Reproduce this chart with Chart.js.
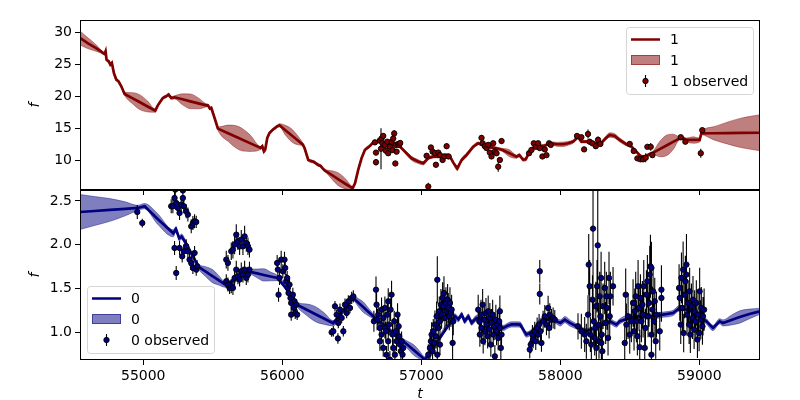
<!DOCTYPE html>
<html>
<head>
<meta charset="utf-8">
<script src="https://cdn.jsdelivr.net/npm/chart.js@4.4.0/dist/chart.umd.min.js"></script>
<style>
  html, body { margin: 0; padding: 0; background: #fff; }
</style>
</head>
<body>
<canvas id="chart" width="800" height="400"></canvas>
<script>
// axis limits and ticks
const xLimits = [54545, 59436];
const xTicks = [55000, 56000, 57000, 58000, 59000];
const topLimits = [5.36, 31.9];
const topTicks = [10, 15, 20, 25, 30];
const botLimits = [0.684, 2.625];
const botTicks = [1.0, 1.5, 2.0, 2.5];

// series "1" (top panel): model mean and band half-width
const redT = [
  54545, 54600, 54655, 54695, 54710, 54722, 54729, 54736, 54751, 54763,
  54774, 54789, 54806, 54822, 54842, 54866, 54921, 54976, 55031, 55086,
  55105, 55141, 55165, 55182, 55201, 55225, 55282, 55339, 55396, 55453,
  55465, 55479, 55489, 55513, 55537, 55614, 55690, 55767, 55844, 55856,
  55868, 55877, 55892, 55908, 55932, 55963, 55980, 56022, 56064, 56106,
  56148, 56160, 56187, 56223, 56259, 56276, 56290, 56307, 56319, 56366,
  56412, 56459, 56506, 56523, 56546, 56570, 56594, 56630, 56654, 56702,
  56750, 56810, 56846, 56882, 56930, 56978, 57014, 57050, 57086, 57134,
  57182, 57206, 57230, 57258, 57290, 57326, 57374, 57409, 57469, 57541,
  57584, 57634, 57685, 57705, 57732, 57751, 57775, 57816, 57876, 57936,
  57972, 58020, 58056, 58092, 58127, 58151, 58187, 58247, 58295, 58326,
  58355, 58391, 58427, 58475, 58511, 58547, 58576, 58607, 58643, 58667,
  58715, 58763, 58811, 58859, 58883, 58907, 58955, 59002, 59014, 59100,
  59200, 59300, 59436
];
const redMean = [
  29.1, 28.3, 27.6, 27.0, 26.76, 26.6, 27.0, 25.7, 25.46, 24.94,
  25.2, 23.6, 22.6, 22.33, 21.55, 20.36, 19.71, 19.06, 18.40, 17.75,
  18.58, 19.73, 19.99, 20.25, 19.73, 19.83, 19.52, 19.2, 18.89, 18.58,
  18.58, 18.07, 18.17, 16.6, 14.94, 14.19, 13.43, 12.68, 11.92, 12.18,
  11.4, 11.66, 13.48, 14.26, 14.78, 15.3, 15.46, 14.7, 13.95, 13.2,
  12.44, 11.92, 10.05, 9.79, 9.27, 9.11, 8.74, 8.38, 8.22, 7.57,
  6.91, 6.26, 5.65, 6.4, 8.49, 10.31, 11.61, 12.24, 12.76, 12.9,
  12.65, 12.4, 12.13, 11.35, 10.31, 9.79, 9.53, 10.31, 10.57, 10.57,
  10.83, 10.57, 9.63, 8.74, 10.05, 10.83, 12.13, 12.65, 12.13, 11.87,
  11.61, 11.1, 10.57, 10.8, 10.1, 10.15, 11.19, 12.13, 12.24, 12.65,
  12.5, 12.5, 12.65, 12.91, 13.59, 12.91, 12.91, 12.65, 12.76, 13.43,
  13.95, 13.8, 13.17, 12.5, 12.13, 11.35, 10.67, 10.57, 10.99, 11.19,
  11.75, 12.31, 12.87, 13.43, 13.43, 13.17, 13.17, 13.17, 14.2, 14.22,
  14.25, 14.28, 14.3
];
const redHalf = [
  1.1, 0.85, 0.55, 0.25, 0.2, 0.2, 0.2, 0.2, 0.2, 0.2,
  0.2, 0.2, 0.2, 0.2, 0.2, 0.25, 0.85, 1.15, 0.85, 0.25,
  0.2, 0.2, 0.2, 0.2, 0.2, 0.25, 0.85, 1.15, 0.85, 0.25,
  0.2, 0.2, 0.2, 0.2, 0.25, 1.3, 1.8, 1.3, 0.25, 0.2,
  0.2, 0.2, 0.2, 0.2, 0.2, 0.2, 0.25, 0.75, 1.0, 0.75,
  0.25, 0.2, 0.2, 0.2, 0.2, 0.2, 0.2, 0.2, 0.25, 0.75,
  1.0, 0.75, 0.25, 0.2, 0.2, 0.2, 0.2, 0.2, 0.2, 0.2,
  0.2, 0.2, 0.2, 0.25, 0.3, 0.3, 0.25, 0.2, 0.2, 0.2,
  0.2, 0.2, 0.25, 0.3, 0.3, 0.3, 0.25, 0.2, 0.2, 0.2,
  0.25, 0.55, 0.25, 0.25, 0.25, 0.25, 0.2, 0.2, 0.2, 0.25,
  0.3, 0.35, 0.3, 0.25, 0.2, 0.2, 0.2, 0.2, 0.2, 0.3,
  0.35, 0.35, 0.3, 0.25, 0.2, 0.2, 0.2, 0.2, 0.2, 0.25,
  1.2, 1.6, 1.2, 0.25, 0.25, 0.3, 0.5, 0.3, 0.2, 1.0,
  1.7, 2.3, 2.8
];

// series "1" observations
const redObsT = [
  56666, 56674, 56674, 56702, 56710, 56714, 56721, 56726, 56738, 56745,
  56755, 56762, 56774, 56786, 56793, 56798, 56805, 56813, 56817, 56822,
  56834, 56841, 56848,
  57038, 57050, 57069, 57081, 57098, 57105, 57122, 57134, 57153, 57165, 57182, 57196,
  57433, 57441, 57457, 57469, 57481, 57493, 57505, 57517, 57529, 57541, 57553, 57565, 57577,
  57775, 57792, 57809, 57823, 57840, 57852, 57871, 57888, 57900, 57919, 57931,
  58120, 58151, 58171, 58199, 58211, 58230, 58255, 58271, 58288,
  58499, 58528, 58554, 58576, 58595, 58614, 58626, 58650, 58662,
  58866, 58899, 59010, 59021
];
const redObsF = [
  12.8, 11.2, 9.7, 13.1, 11.8, 13.4, 12.65, 13.8, 12.4, 11.5,
  12.9, 11.1, 12.1, 12.9, 11.6, 13.4, 14.2, 9.5, 12.4, 11.35,
  12.55, 12.4, 12.7,
  10.7, 5.9, 12.0, 11.35, 11.1, 9.3, 11.2, 10.8, 10.05, 10.6, 12.2, 10.6,
  13.5, 12.65, 12.2, 11.9, 12.4, 11.2, 10.6, 12.65, 11.35, 11.1, 9.0, 10.05, 13.0,
  11.1, 11.6, 12.65, 12.1, 12.65, 11.9, 10.6, 11.7, 10.8, 12.65, 12.4,
  13.8, 13.6, 11.7, 14.1, 12.9, 12.65, 12.2, 13.2, 12.55,
  12.55, 11.45, 10.3, 10.15, 10.15, 10.4, 12.1, 12.1, 10.8,
  13.6, 12.9, 11.1, 14.7
];
const redObsE = [
  0.4, 0.4, 0.5, 0.4, 3.2, 0.4, 0.4, 0.4, 0.4, 0.4,
  0.4, 0.4, 0.4, 0.4, 0.4, 0.4, 0.5, 0.4, 0.4, 0.4,
  0.4, 0.4, 0.4,
  0.4, 0.6, 0.4, 0.4, 0.4, 0.4, 0.4, 0.4, 0.4, 0.4, 0.4, 0.4,
  0.4, 0.4, 0.4, 0.4, 0.4, 0.4, 0.4, 0.4, 0.4, 0.4, 0.8, 0.4, 0.4,
  0.35, 0.35, 0.35, 0.35, 0.35, 0.35, 0.35, 0.35, 0.35, 0.35, 0.35,
  0.35, 0.35, 0.4, 0.7, 0.35, 0.35, 0.35, 0.5, 0.35,
  0.35, 0.35, 0.35, 0.35, 0.35, 0.7, 0.35, 0.6, 0.35,
  0.35, 0.35, 0.7, 0.4
];

// series "0" (bottom panel): model mean and band half-width
const blueT = [
  54545, 54650, 54760, 54870, 54960, 55010, 55100, 55216, 55235, 55259,
  55276, 55300, 55400, 55447, 55495, 55542, 55590, 55660, 55720, 55770,
  55819, 55867, 55916, 55965, 56040, 56112, 56176, 56239, 56303, 56366,
  56440, 56510, 56546, 56582, 56618, 56654, 56760, 56870, 56909, 56948,
  56987, 57026, 57130, 57242, 57266, 57290, 57312, 57338, 57362, 57397,
  57450, 57520, 57589, 57620, 57650, 57690, 57710, 57756, 57790, 57876,
  57948, 57972, 58000, 58032, 58068, 58115, 58187, 58247, 58355, 58403,
  58427, 58540, 58660, 58739, 58811, 58859, 58950, 59050, 59098, 59146,
  59170, 59230, 59290, 59360, 59436
];
const blueMean = [
  2.374, 2.385, 2.397, 2.41, 2.42, 2.44, 2.3, 2.13, 2.177, 2.074,
  2.093, 2.035, 1.745, 1.695, 1.645, 1.595, 1.545, 1.6, 1.66, 1.69,
  1.673, 1.655, 1.638, 1.62, 1.48, 1.31, 1.258, 1.207, 1.155, 1.104,
  1.25, 1.392, 1.34, 1.288, 1.235, 1.183, 1.04, 0.898, 0.846, 0.794,
  0.742, 0.69, 0.93, 1.183, 1.15, 1.2, 1.13, 1.18, 1.11, 1.164,
  1.13, 1.11, 1.05, 1.075, 1.09, 1.09, 1.088, 0.974, 1.0, 1.145,
  1.145, 1.126, 1.107, 1.145, 1.107, 1.069, 1.012, 1.05, 1.126, 1.088,
  1.126, 1.183, 1.183, 1.202, 1.221, 1.278, 1.24, 1.126, 1.05, 1.126,
  1.107, 1.14, 1.175, 1.21, 1.24
];
const blueHalf = [
  0.2, 0.165, 0.13, 0.08, 0.03, 0.03, 0.06, 0.04, 0.03, 0.03,
  0.03, 0.03, 0.03, 0.055, 0.075, 0.055, 0.03, 0.03, 0.03, 0.03,
  0.05, 0.07, 0.05, 0.03, 0.03, 0.03, 0.065, 0.086, 0.065, 0.03,
  0.03, 0.03, 0.045, 0.06, 0.045, 0.03, 0.03, 0.03, 0.045, 0.06,
  0.045, 0.03, 0.03, 0.03, 0.03, 0.03, 0.03, 0.03, 0.03, 0.03,
  0.03, 0.03, 0.03, 0.03, 0.03, 0.03, 0.03, 0.03, 0.03, 0.03,
  0.03, 0.03, 0.035, 0.035, 0.035, 0.03, 0.03, 0.03, 0.03, 0.03,
  0.03, 0.03, 0.03, 0.03, 0.03, 0.03, 0.03, 0.03, 0.03, 0.03,
  0.035, 0.055, 0.07, 0.055, 0.035
];

// series "0" observations, one line per season
const blueObsT = [
  54957, 54993,
  55201, 55213, 55225, 55237, 55249, 55261, 55273, 55285, 55292, 55309, 55321, 55345, 55357, 55369, 55381, 55230, 55285,
  55225, 55237, 55261, 55280, 55292, 55309, 55321, 55333, 55345, 55357, 55369, 55381, 55388,
  55597, 55609, 55633, 55645, 55657, 55669, 55681, 55693, 55705, 55717, 55729, 55741, 55753, 55764,
  55597, 55609, 55621, 55633, 55645, 55657, 55669, 55681, 55693, 55705, 55717, 55729, 55741, 55753, 55764,
  55963, 55968, 55973, 55980, 55992, 56004, 56016, 56021, 56028, 56035, 56040, 56045, 56052, 56059, 56064, 56064, 56076, 56083, 56088, 56093, 56100, 56107,
  56355, 56367, 56379, 56391, 56400, 56403, 56415, 56427, 56439, 56451, 56463, 56475, 56487, 56499, 56511,
  56659, 56674, 56678, 56682, 56690, 56702, 56702, 56714, 56714, 56726, 56726, 56738, 56738, 56745, 56750, 56755, 56762, 56762,
  56769, 56774, 56779, 56786, 56793, 56798, 56805, 56810, 56817, 56822, 56829, 56837, 56841, 56846, 56853, 56858, 56865, 56870,
  57050, 57062, 57069, 57074, 57081, 57086, 57093, 57098, 57105, 57110, 57115, 57115, 57122, 57129, 57134, 57134,
  57141, 57146, 57153, 57158, 57163, 57170, 57177, 57182, 57189, 57194, 57201, 57206, 57213, 57218, 57225, 57230,
  57409, 57417, 57421, 57429, 57433, 57441, 57445, 57453, 57457, 57465, 57469, 57477, 57481, 57489, 57493,
  57500, 57505, 57513, 57517, 57524, 57529, 57536, 57541, 57548, 57553, 57560, 57565, 57565, 57572, 57577,
  57780, 57787, 57799, 57804, 57816, 57823, 57833, 57840, 57847, 57852, 57852, 57857, 57864, 57876, 57888, 57900, 57912, 57919, 57924, 57936, 57948, 57960,
  58127, 58151, 58175, 58187, 58199, 58204, 58211, 58216, 58223, 58231, 58235, 58240, 58247, 58255, 58255, 58259, 58264, 58269,
  58274, 58278, 58283, 58288, 58293, 58295, 58298, 58302, 58307, 58319, 58326, 58331, 58336, 58343, 58350, 58355, 58360, 58379,
  58463, 58470, 58475, 58487, 58499, 58511, 58523, 58530, 58535, 58542, 58547, 58554, 58559, 58566, 58571, 58576, 58583, 58590, 58595, 58600,
  58607, 58612, 58619, 58626, 58631, 58638, 58643, 58648, 58655, 58655, 58655, 58662, 58667, 58674, 58679, 58686, 58691, 58715, 58727, 58727,
  58854, 58859, 58866, 58871, 58878, 58883, 58887, 58895, 58899, 58907, 58907, 58911, 58919, 58926, 58930, 58935,
  58943, 58950, 58954, 58962, 58966, 58974, 58978, 58986, 58990, 58998, 59002, 59010, 59014, 59022, 59026, 59034
];
const blueObsF = [
  2.374, 2.248,
  2.44, 2.439, 2.534, 2.477, 2.42, 2.363, 2.458, 2.534, 2.439, 2.382, 2.344, 2.21, 2.248, 2.268, 2.26, 2.63, 2.62,
  1.963, 1.678, 1.963, 1.868, 1.925, 1.982, 1.925, 1.83, 1.792, 1.735, 1.906, 1.716, 1.754,
  1.83, 1.792, 1.925, 1.944, 2.001, 2.115, 2.039, 1.982, 2.058, 1.982, 2.096, 2.02, 1.982, 1.944,
  1.583, 1.545, 1.507, 1.526, 1.507, 1.621, 1.716, 1.64, 1.602, 1.697, 1.659, 1.716, 1.621, 1.659, 1.716,
  1.792, 1.716, 1.43, 1.621, 1.83, 1.697, 1.83, 1.735, 1.583, 1.621, 1.507, 1.449, 1.545, 1.392, 1.335, 1.202, 1.43, 1.278, 1.354, 1.221, 1.316, 1.202,
  1.0, 1.012, 1.297, 1.202, 0.93, 1.107, 1.259, 1.164, 1.012, 1.316, 1.221, 1.354, 1.278, 1.392, 1.411,
  1.126, 1.487, 1.316, 1.145, 1.202, 1.05, 0.898, 0.974, 1.259, 1.164, 0.822, 1.278, 1.05, 1.012, 0.745, 1.202, 0.898, 1.354,
  1.088, 0.688, 1.259, 1.43, 0.974, 0.822, 1.126, 0.745, 1.012, 0.898, 1.202, 1.069, 0.955, 0.86, 0.784, 0.898, 0.745, 0.822,
  0.745, 0.822, 0.898, 0.974, 0.784, 1.012, 0.879, 1.088, 0.955, 1.183, 1.6, 0.745, 1.05, 1.24, 1.126, 0.86,
  1.316, 1.202, 1.392, 1.297, 1.449, 1.164, 1.335, 1.24, 1.373, 1.278, 1.183, 1.335, 1.221, 1.259, 0.879, 1.126,
  1.259, 1.126, 0.974, 1.202, 1.05, 1.316, 0.898, 1.145, 1.012, 1.221, 1.088, 0.955, 1.24, 1.031, 1.164,
  0.86, 1.107, 1.202, 0.974, 1.069, 0.726, 1.145, 1.012, 1.088, 0.936, 1.126, 1.05, 1.24, 0.822, 0.974,
  0.803, 0.86, 0.974, 0.917, 1.012, 0.898, 1.05, 0.974, 1.088, 1.697, 1.438, 1.012, 0.879, 1.126, 1.183, 1.088, 1.278, 1.05, 1.202, 1.145, 1.164, 1.145,
  1.069, 1.012, 0.974, 0.898, 1.202, 1.773, 1.526, 0.974, 0.86, 1.373, 2.184, 1.126, 0.936, 1.297, 1.05, 0.822, 1.526, 1.993,
  1.088, 0.898, 1.411, 1.183, 1.621, 0.879, 0.974, 0.784, 1.297, 1.507, 1.107, 1.411, 1.278, 0.936, 1.621, 1.183, 1.411, 1.526,
  0.879, 1.43, 1.088, 1.183, 0.974, 1.126, 1.335, 1.012, 1.24, 1.411, 1.126, 0.955, 1.526, 1.278, 0.83, 1.392, 1.126, 1.316, 1.202, 1.526,
  0.822, 1.05, 1.43, 1.583, 1.183, 1.335, 1.659, 1.754, 0.974, 1.735, 0.745, 1.259, 1.468, 1.126, 1.354, 0.898, 1.202, 1.012, 1.487, 1.392,
  1.507, 1.392, 1.088, 1.621, 1.278, 1.716, 0.993, 1.43, 1.583, 1.773, 1.659, 1.202, 1.335, 1.088, 1.468, 0.974,
  1.297, 1.164, 1.373, 1.031, 1.24, 1.126, 1.335, 0.917, 1.202, 0.993, 1.468, 1.145, 1.278, 1.069, 1.183, 1.259
];
const blueObsE = [
  0.08, 0.05,
  0.08, 0.08, 0.09, 0.08, 0.08, 0.08, 0.08, 0.09, 0.08, 0.08, 0.08, 0.08, 0.08, 0.08, 0.07, 0.09, 0.09,
  0.08, 0.08, 0.08, 0.07, 0.08, 0.08, 0.08, 0.07, 0.08, 0.07, 0.08, 0.07, 0.07,
  0.1, 0.09, 0.1, 0.1, 0.11, 0.12, 0.1, 0.1, 0.11, 0.1, 0.12, 0.1, 0.1, 0.09,
  0.08, 0.08, 0.07, 0.08, 0.08, 0.09, 0.1, 0.09, 0.08, 0.1, 0.09, 0.1, 0.08, 0.09, 0.09,
  0.09, 0.08, 0.08, 0.08, 0.1, 0.08, 0.09, 0.08, 0.08, 0.08, 0.07, 0.08, 0.08, 0.07, 0.07, 0.07, 0.08, 0.07, 0.07, 0.07, 0.06, 0.06,
  0.05, 0.06, 0.06, 0.06, 0.06, 0.06, 0.07, 0.06, 0.06, 0.07, 0.06, 0.07, 0.06, 0.07, 0.07,
  0.12, 0.15, 0.14, 0.12, 0.12, 0.12, 0.11, 0.11, 0.14, 0.12, 0.1, 0.13, 0.12, 0.11, 0.1, 0.12, 0.11, 0.15,
  0.12, 0.1, 0.13, 0.16, 0.12, 0.11, 0.12, 0.1, 0.12, 0.11, 0.13, 0.12, 0.11, 0.1, 0.1, 0.11, 0.1, 0.1,
  0.12, 0.13, 0.14, 0.14, 0.12, 0.14, 0.13, 0.16, 0.14, 0.17, 0.27, 0.12, 0.14, 0.17, 0.16, 0.12,
  0.18, 0.16, 0.18, 0.17, 0.19, 0.16, 0.18, 0.17, 0.18, 0.17, 0.16, 0.18, 0.16, 0.17, 0.24, 0.16,
  0.17, 0.16, 0.14, 0.17, 0.16, 0.18, 0.14, 0.17, 0.16, 0.17, 0.16, 0.14, 0.18, 0.16, 0.17,
  0.14, 0.16, 0.17, 0.14, 0.16, 0.13, 0.17, 0.16, 0.16, 0.14, 0.16, 0.14, 0.18, 0.13, 0.14,
  0.1, 0.1, 0.11, 0.1, 0.11, 0.1, 0.12, 0.11, 0.12, 0.13, 0.12, 0.11, 0.1, 0.12, 0.13, 0.12, 0.14, 0.12, 0.13, 0.12, 0.12, 0.11,
  0.15, 0.2, 0.2, 0.2, 0.22, 0.35, 0.3, 0.2, 0.2, 0.28, 0.8, 0.25, 0.2, 0.28, 0.22, 0.2, 0.3, 0.75,
  0.25, 0.2, 0.28, 0.25, 0.3, 0.2, 0.2, 0.18, 0.26, 0.3, 0.24, 0.28, 0.25, 0.2, 0.3, 0.25, 0.28, 0.22,
  0.22, 0.3, 0.24, 0.26, 0.22, 0.24, 0.27, 0.22, 0.26, 0.28, 0.24, 0.22, 0.3, 0.26, 0.2, 0.27, 0.24, 0.27, 0.26, 0.3,
  0.2, 0.22, 0.28, 0.3, 0.24, 0.27, 0.33, 0.36, 0.22, 0.3, 0.2, 0.26, 0.28, 0.24, 0.27, 0.2, 0.26, 0.22, 0.28, 0.27,
  0.27, 0.26, 0.22, 0.29, 0.26, 0.32, 0.22, 0.27, 0.29, 0.35, 0.3, 0.24, 0.26, 0.22, 0.27, 0.21,
  0.26, 0.24, 0.27, 0.22, 0.24, 0.22, 0.26, 0.21, 0.24, 0.21, 0.27, 0.22, 0.24, 0.21, 0.22, 0.24
];

const FONT = "'DejaVu Sans', sans-serif";
const RED = '#800000';
const RED_BAND = 'rgba(128, 0, 0, 0.5)';
const BLUE = '#000080';
const BLUE_BAND = 'rgba(0, 0, 128, 0.5)';

Chart.defaults.font.family = FONT;
Chart.defaults.font.size = 14;
Chart.defaults.color = '#000';

function xy(ts, ys) {
    return ts.map((t, i) => ({ x: t, y: ys[i] }));
}
function offsetBy(means, halves, sign) {
    return means.map((m, i) => m + sign * halves[i]);
}

// clip each dataset to its own panel and draw error bars under the markers
const panelClip = {
    id: 'panelClip',
    beforeDatasetDraw(chart, args) {
        const { ctx, chartArea } = chart;
        const ys = args.meta.yScale;
        const xs = args.meta.xScale;
        ctx.save();
        ctx.beginPath();
        ctx.rect(chartArea.left, ys.top, chartArea.right - chartArea.left, ys.bottom - ys.top);
        ctx.clip();
        const ds = chart.data.datasets[args.index];
        if (ds.errors) {
            ctx.strokeStyle = '#000';
            ctx.lineWidth = 1.1;
            ctx.beginPath();
            ds.data.forEach((p, i) => {
                const px = xs.getPixelForValue(p.x);
                ctx.moveTo(px, ys.getPixelForValue(p.y - ds.errors[i]));
                ctx.lineTo(px, ys.getPixelForValue(p.y + ds.errors[i]));
            });
            ctx.stroke();
        }
    },
    afterDatasetDraw(chart) {
        chart.ctx.restore();
    }
};

// full box around each panel, plus the (unlabelled) x ticks of the top panel
const frames = {
    id: 'frames',
    afterDatasetsDraw(chart) {
        const { ctx, chartArea } = chart;
        ctx.save();
        ctx.strokeStyle = '#000';
        ctx.lineWidth = 1;
        ['yTop', 'yBot'].forEach(id => {
            const s = chart.scales[id];
            const l = Math.round(chartArea.left) + 0.5;
            const r = Math.round(chartArea.right) - 0.5;
            const t = Math.round(s.top) + 0.5;
            const b = Math.round(s.bottom) - 0.5;
            ctx.strokeRect(l, t, r - l, b - t);
        });
        const xs = chart.scales.x;
        const yb = Math.round(chart.scales.yTop.bottom);
        ctx.beginPath();
        xTicks.forEach(v => {
            const px = Math.round(xs.getPixelForValue(v)) + 0.5;
            ctx.moveTo(px, yb);
            ctx.lineTo(px, yb + 5);
        });
        ctx.stroke();
        ctx.restore();
    }
};

function drawLegend(ctx, x, y, color, band, name) {
    ctx.save();
    ctx.beginPath();
    ctx.roundRect(x + 0.5, y + 0.5, 127, 67, 3);
    ctx.fillStyle = 'rgba(255, 255, 255, 0.8)';
    ctx.fill();
    ctx.strokeStyle = '#d5d5d5';
    ctx.lineWidth = 1;
    ctx.stroke();

    ctx.strokeStyle = color;
    ctx.lineWidth = 2.5;
    ctx.beginPath();
    ctx.moveTo(x + 5, y + 12.5);
    ctx.lineTo(x + 34, y + 12.5);
    ctx.stroke();

    ctx.fillStyle = band;
    ctx.fillRect(x + 5, y + 28, 29, 10);
    ctx.strokeStyle = band;
    ctx.lineWidth = 1;
    ctx.strokeRect(x + 5.5, y + 28.5, 28, 9);

    ctx.strokeStyle = '#000';
    ctx.lineWidth = 1.1;
    ctx.beginPath();
    ctx.moveTo(x + 19.5, y + 48);
    ctx.lineTo(x + 19.5, y + 60);
    ctx.stroke();
    ctx.beginPath();
    ctx.arc(x + 19.5, y + 54, 2.7, 0, Math.PI * 2);
    ctx.fillStyle = color;
    ctx.fill();
    ctx.lineWidth = 0.9;
    ctx.stroke();

    ctx.fillStyle = '#000';
    ctx.font = '14px ' + FONT;
    ctx.textBaseline = 'middle';
    ctx.fillText(name, x + 44, y + 13);
    ctx.fillText(name, x + 44, y + 34);
    ctx.fillText(name + ' observed', x + 44, y + 55);
    ctx.restore();
}

const legends = {
    id: 'legends',
    afterDraw(chart) {
        const { ctx, chartArea } = chart;
        const top = chart.scales.yTop;
        const bot = chart.scales.yBot;
        drawLegend(ctx, chartArea.right - 134, top.top + 7, RED, RED_BAND, '1');
        drawLegend(ctx, chartArea.left + 7, bot.bottom - 74, BLUE, BLUE_BAND, '0');
    }
};

function yAxis(limits, ticks, fmt, weight) {
    return {
        type: 'linear',
        position: 'left',
        stack: 'panels',
        stackWeight: 1,
        weight: weight,
        min: limits[0],
        max: limits[1],
        afterBuildTicks: s => { s.ticks = ticks.map(v => ({ value: v })); },
        afterFit: s => { s.width = 80; },
        ticks: { padding: 3, color: '#000', font: { size: 14 }, callback: fmt },
        grid: { drawOnChartArea: false, drawTicks: true, tickLength: 5, color: '#000', lineWidth: 1 },
        border: { display: false },
        title: {
            display: true, text: 'f', color: '#000',
            font: { size: 14, style: 'italic' },
            padding: { top: 27, bottom: 0 }
        }
    };
}

// band edges get a smooth curve so the gaps read as lenses, the mean stays straight
function bandEdge(ts, ys, axis, color, fillTarget) {
    return {
        data: xy(ts, ys), yAxisID: axis, order: 3,
        borderColor: color, borderWidth: 0.8, pointRadius: 0,
        cubicInterpolationMode: 'monotone',
        fill: fillTarget, backgroundColor: color
    };
}

new Chart(document.getElementById('chart'), {
    type: 'line',
    data: {
        datasets: [
            {
                type: 'scatter', data: xy(redObsT, redObsF), errors: redObsE, yAxisID: 'yTop', order: 1,
                pointRadius: 2.7, pointHoverRadius: 2.7, backgroundColor: RED, borderColor: '#000', borderWidth: 0.9
            },
            {
                data: xy(redT, redMean), yAxisID: 'yTop', order: 2,
                borderColor: RED, borderWidth: 2.7, pointRadius: 0, tension: 0, fill: false
            },
            bandEdge(redT, offsetBy(redMean, redHalf, -1), 'yTop', RED_BAND, false),
            bandEdge(redT, offsetBy(redMean, redHalf, 1), 'yTop', RED_BAND, 2),
            {
                type: 'scatter', data: xy(blueObsT, blueObsF), errors: blueObsE, yAxisID: 'yBot', order: 1,
                pointRadius: 2.7, pointHoverRadius: 2.7, backgroundColor: BLUE, borderColor: '#000', borderWidth: 0.9
            },
            {
                data: xy(blueT, blueMean), yAxisID: 'yBot', order: 2,
                borderColor: BLUE, borderWidth: 2.7, pointRadius: 0, tension: 0, fill: false
            },
            bandEdge(blueT, offsetBy(blueMean, blueHalf, -1), 'yBot', BLUE_BAND, false),
            bandEdge(blueT, offsetBy(blueMean, blueHalf, 1), 'yBot', BLUE_BAND, 6)
        ]
    },
    options: {
        responsive: false,
        animation: false,
        layout: { padding: { left: 0, right: 40, top: 20, bottom: 0 } },
        plugins: { legend: { display: false }, tooltip: { enabled: false } },
        scales: {
            x: {
                type: 'linear',
                position: 'bottom',
                min: xLimits[0],
                max: xLimits[1],
                afterBuildTicks: s => { s.ticks = xTicks.map(v => ({ value: v })); },
                afterFit: s => { s.height = 40; },
                ticks: { padding: 3, maxRotation: 0, autoSkip: false, color: '#000', font: { size: 14 }, callback: v => String(v) },
                grid: { drawOnChartArea: false, drawTicks: true, tickLength: 5, color: '#000', lineWidth: 1 },
                border: { display: false },
                title: {
                    display: true, text: 't', color: '#000',
                    font: { size: 14, style: 'italic', lineHeight: 0.8 },
                    padding: { top: 0, bottom: 0 }
                }
            },
            yBot: yAxis(botLimits, botTicks, v => v.toFixed(1), 0),
            yTop: yAxis(topLimits, topTicks, v => String(v), 1)
        }
    },
    plugins: [panelClip, frames, legends]
});
</script>
</body>
</html>
